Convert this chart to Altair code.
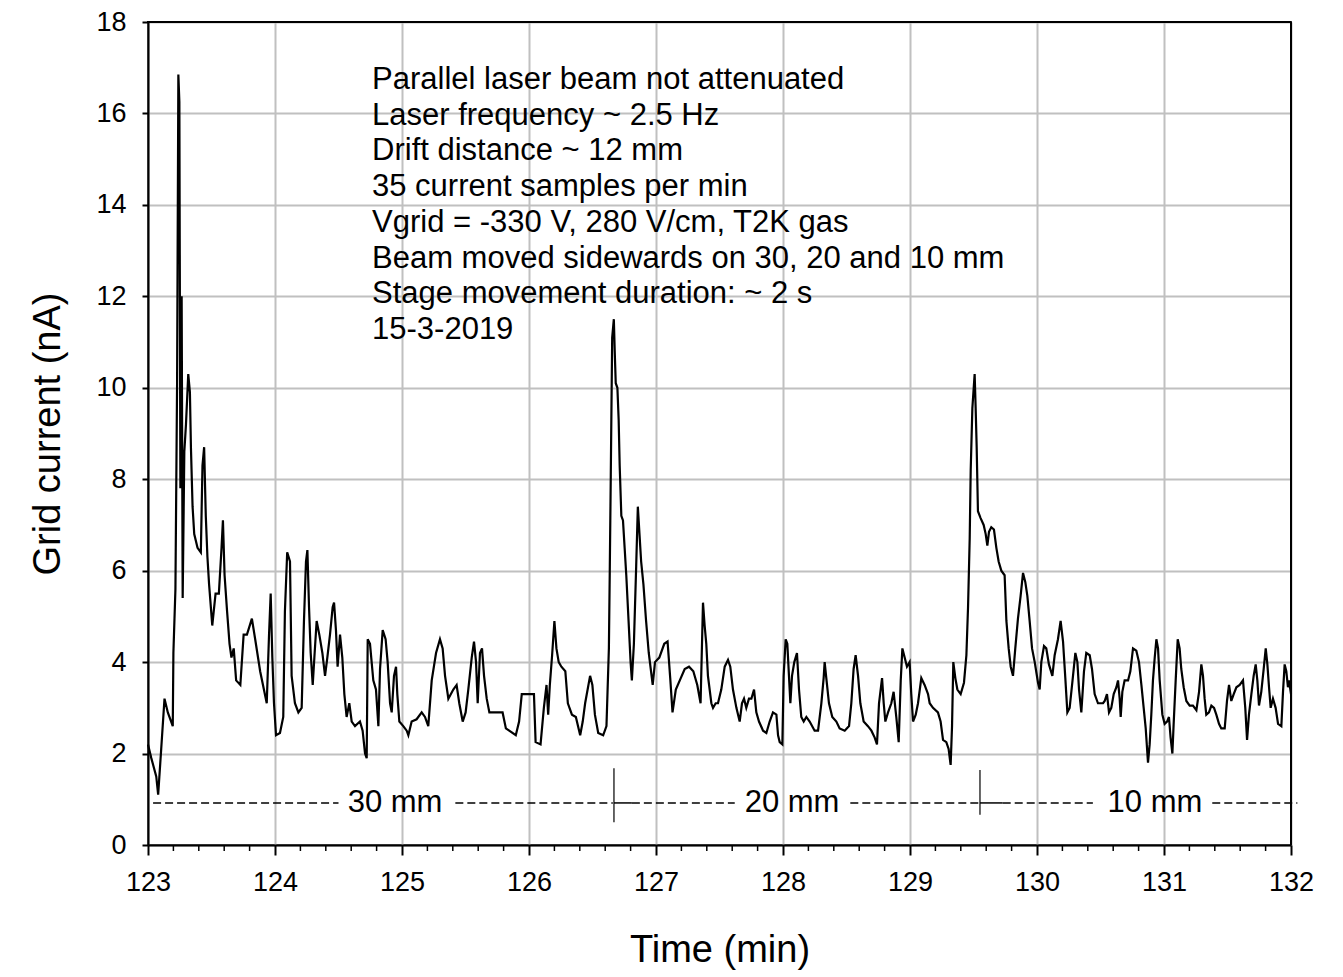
import altair as alt
import pandas as pd

# ---- data ----
time_min = [
    123.000, 123.026, 123.065, 123.080, 123.104, 123.130, 123.156, 123.195, 123.200, 123.216,
    123.229, 123.239, 123.247, 123.255, 123.265, 123.273, 123.286, 123.299, 123.317, 123.330,
    123.338, 123.351, 123.364, 123.390, 123.416, 123.429, 123.442, 123.455, 123.468, 123.481,
    123.506, 123.532, 123.558, 123.579, 123.590, 123.603, 123.623, 123.642, 123.657, 123.675,
    123.694, 123.727, 123.753, 123.779, 123.818, 123.844, 123.883, 123.935, 123.953, 123.966,
    123.979, 123.992, 124.008, 124.039, 124.065, 124.078, 124.096,
    124.118, 124.131, 124.157, 124.184, 124.210, 124.228, 124.244, 124.255, 124.268, 124.281,
    124.297, 124.310, 124.328, 124.349, 124.373, 124.394, 124.412, 124.433, 124.454, 124.465,
    124.480, 124.493, 124.512, 124.530, 124.546, 124.564, 124.585, 124.604, 124.630, 124.669,
    124.690, 124.709, 124.722, 124.730, 124.748, 124.774, 124.795, 124.814, 124.827, 124.848,
    124.871, 124.887, 124.906, 124.919, 124.937, 124.953, 124.963, 124.979, 125.010, 125.037,
    125.050, 125.076, 125.115, 125.155, 125.181, 125.207, 125.234, 125.268, 125.299, 125.320,
    125.339, 125.365, 125.404, 125.430, 125.451, 125.478, 125.501, 125.522, 125.549, 125.567,
    125.583, 125.596, 125.614, 125.630, 125.646, 125.667, 125.688,
    125.701, 125.792, 125.818, 125.844, 125.896, 125.922, 125.943, 126.039, 126.052, 126.091,
    126.117, 126.138, 126.151, 126.164, 126.182, 126.200, 126.216, 126.234, 126.255, 126.286,
    126.306, 126.338, 126.369, 126.403, 126.423, 126.442, 126.481, 126.499, 126.519, 126.545,
    126.584, 126.610, 126.629, 126.636, 126.644, 126.655, 126.668, 126.675, 126.683, 126.696,
    126.706, 126.714, 126.727, 126.740, 126.753, 126.766, 126.784, 126.800, 126.810, 126.826,
    126.844, 126.857, 126.870, 126.883, 126.901, 126.922, 126.943, 126.974, 126.992, 127.026,
    127.065, 127.091, 127.112, 127.130, 127.156, 127.195, 127.226, 127.260, 127.294, 127.325,
    127.351,
    127.370, 127.383, 127.396, 127.409, 127.436, 127.449, 127.470, 127.488, 127.514, 127.541,
    127.567, 127.585, 127.606, 127.633, 127.659, 127.677, 127.693, 127.711, 127.732, 127.751,
    127.772, 127.790, 127.811, 127.843, 127.869, 127.895, 127.921, 127.948, 127.961, 127.974,
    127.995, 128.005, 128.021, 128.034, 128.047, 128.058, 128.071, 128.089, 128.110, 128.126,
    128.144, 128.163, 128.184, 128.210, 128.249, 128.276, 128.302, 128.320, 128.328, 128.341,
    128.362, 128.388, 128.420, 128.446, 128.486, 128.520, 128.538, 128.556, 128.572, 128.591,
    128.609, 128.635, 128.669, 128.696, 128.722, 128.740, 128.756, 128.780, 128.793, 128.806,
    128.827, 128.853, 128.871, 128.892, 128.911, 128.927, 128.940, 128.958, 128.976, 128.997,
    129.010, 129.024, 129.045, 129.063, 129.089, 129.115, 129.142,
    129.155, 129.181, 129.220, 129.241, 129.260, 129.286, 129.304, 129.320, 129.331, 129.341,
    129.357, 129.373, 129.399, 129.425, 129.444, 129.457, 129.470, 129.478, 129.491, 129.509,
    129.517, 129.525, 129.535, 129.556, 129.580, 129.596, 129.609, 129.622, 129.640, 129.661,
    129.680, 129.698, 129.719, 129.745, 129.759, 129.777, 129.793, 129.811, 129.829, 129.850,
    129.871, 129.890, 129.908, 129.924, 129.942, 129.961, 129.982, 130.008, 130.021, 130.034,
    130.055, 130.073, 130.094, 130.121, 130.139, 130.165, 130.186, 130.205, 130.223, 130.239,
    130.257, 130.278, 130.302, 130.318, 130.331, 130.349, 130.370, 130.388, 130.415, 130.433,
    130.454, 130.480, 130.520,
    130.533, 130.551, 130.567, 130.585, 130.604, 130.625, 130.638, 130.651, 130.659, 130.672,
    130.690, 130.717, 130.735, 130.756, 130.782, 130.803, 130.822, 130.840, 130.856, 130.874,
    130.887, 130.900, 130.913, 130.927, 130.940, 130.953, 130.966, 130.987, 131.005, 131.024,
    131.039, 131.052, 131.066, 131.076, 131.092, 131.108, 131.123, 131.136, 131.155, 131.176,
    131.202, 131.228, 131.255, 131.276, 131.294, 131.307, 131.320, 131.333, 131.354, 131.373,
    131.394, 131.412, 131.433, 131.451, 131.478, 131.496, 131.512, 131.530, 131.549, 131.570,
    131.596, 131.622, 131.640, 131.654, 131.669, 131.688, 131.706, 131.722, 131.735, 131.748,
    131.766, 131.785, 131.801, 131.814, 131.827, 131.840, 131.858, 131.879, 131.898, 131.924,
    131.937, 131.950, 131.963, 131.976, 131.984, 132.000,
]

current_nA = [
    2.2, 1.9, 1.5, 1.1, 2.1, 3.2, 2.9, 2.6, 4.2, 5.6,
    10.1, 16.85, 16.25, 7.8, 12.0, 5.4, 8.6, 9.2, 10.3, 9.9,
    8.7, 7.4, 6.8, 6.5, 6.4, 8.3, 8.7, 7.2, 6.3, 5.7,
    4.8, 5.5, 5.5, 6.5, 7.1, 5.9, 5.1, 4.4, 4.1, 4.3,
    3.6, 3.5, 4.6, 4.6, 4.95, 4.5, 3.8, 3.1, 4.6, 5.5,
    4.1, 3.1, 2.4, 2.45, 2.8, 5.1, 6.4,
    6.2, 3.7, 3.1, 2.9, 3.0, 4.9, 6.2, 6.45, 5.2, 4.2,
    3.5, 4.1, 4.9, 4.6, 4.2, 3.7, 4.1, 4.6, 5.2, 5.3,
    4.7, 3.9, 4.6, 4.1, 3.3, 2.8, 3.1, 2.7, 2.6, 2.7,
    2.5, 2.0, 1.9, 4.5, 4.4, 3.6, 3.4, 2.6, 3.85, 4.7,
    4.5, 4.0, 3.1, 2.9, 3.7, 3.9, 3.3, 2.7, 2.6, 2.5,
    2.4, 2.7, 2.75, 2.9, 2.8, 2.6, 3.6, 4.2, 4.5, 4.3,
    3.7, 3.2, 3.4, 3.5, 3.1, 2.7, 2.9, 3.4, 4.1, 4.45,
    4.0, 3.1, 4.2, 4.3, 3.7, 3.2, 2.9,
    2.9, 2.9, 2.55, 2.5, 2.4, 2.7, 3.3, 3.3, 2.25, 2.2,
    3.0, 3.5, 2.85, 3.5, 4.15, 4.9, 4.3, 4.0, 3.9, 3.8,
    3.1, 2.85, 2.8, 2.4, 2.7, 3.1, 3.7, 3.5, 2.85, 2.45,
    2.4, 2.6, 4.3, 6.0, 8.1, 11.1, 11.5, 10.8, 10.1, 10.0,
    9.3, 8.3, 7.2, 7.1, 6.5, 5.9, 4.9, 4.0, 3.6, 4.4,
    6.1, 7.4, 6.8, 6.2, 5.7, 4.9, 4.2, 3.5, 4.0, 4.1,
    4.4, 4.45, 3.65, 2.9, 3.4, 3.65, 3.85, 3.9, 3.8, 3.5,
    3.1,
    5.3, 4.8, 4.4, 3.7, 3.1, 3.0, 3.1, 3.1, 3.4, 3.9,
    4.05, 3.9, 3.4, 3.0, 2.7, 3.1, 3.2, 3.0, 3.2, 3.2,
    3.4, 2.9, 2.7, 2.5, 2.45, 2.7, 2.9, 2.85, 2.4, 2.25,
    2.2, 3.7, 4.5, 4.4, 3.7, 3.1, 3.7, 4.0, 4.2, 3.4,
    2.8, 2.7, 2.8, 2.7, 2.5, 2.5, 3.1, 3.65, 4.0, 3.65,
    3.1, 2.8, 2.7, 2.55, 2.5, 2.6, 3.1, 3.85, 4.15, 3.7,
    3.1, 2.7, 2.6, 2.5, 2.35, 2.2, 3.1, 3.65, 3.1, 2.7,
    2.9, 3.1, 3.35, 2.8, 2.25, 3.6, 4.3, 4.1, 3.9, 4.0,
    3.3, 2.7, 2.85, 3.1, 3.65, 3.5, 3.3,
    3.1, 3.0, 2.9, 2.7, 2.3, 2.25, 2.1, 1.75, 2.6, 4.0,
    3.65, 3.4, 3.3, 3.55, 4.15, 5.2, 6.7, 8.2, 9.55, 10.3,
    9.55, 8.7, 7.3, 7.15, 7.0, 6.8, 6.55, 6.85, 6.95, 6.9,
    6.5, 6.2, 6.0, 5.9, 4.9, 4.3, 3.9, 3.7, 4.3, 4.95,
    5.45, 5.95, 5.75, 5.45, 4.9, 4.3, 4.0, 3.55, 3.4, 4.0,
    4.35, 4.3, 3.95, 3.7, 4.15, 4.5, 4.9, 4.45, 3.65, 2.9,
    3.0, 3.55, 4.2, 4.0, 3.4, 2.9, 3.8, 4.2, 4.15, 3.85,
    3.3, 3.1, 3.1,
    3.15, 3.3, 2.9, 3.0, 3.3, 3.45, 3.6, 3.2, 2.8, 3.35,
    3.6, 3.6, 3.8, 4.3, 4.25, 4.0, 3.5, 3.0, 2.55, 1.8,
    2.2, 2.85, 3.6, 4.1, 4.5, 4.3, 3.6, 2.85, 2.65, 2.7,
    2.8, 2.35, 2.0, 2.65, 3.6, 4.5, 4.3, 3.85, 3.45, 3.15,
    3.05, 3.05, 2.95, 3.35, 3.95, 3.7, 3.2, 2.85, 2.9, 3.05,
    3.0, 2.85, 2.65, 2.55, 2.55, 3.15, 3.5, 3.15, 3.3, 3.45,
    3.5, 3.6, 3.0, 2.3, 2.85, 3.3, 3.7, 3.95, 3.6, 3.05,
    3.35, 3.85, 4.3, 3.95, 3.45, 3.0, 3.2, 3.0, 2.65, 2.6,
    3.35, 3.95, 3.8, 3.45, 3.6, 3.3,
]

x_ticks = [123, 124, 125, 126, 127, 128, 129, 130, 131, 132]
y_ticks = [0, 2, 4, 6, 8, 10, 12, 14, 16, 18]
minor_x_ticks = [123.2, 123.4, 123.6, 123.8, 124.2, 124.4, 124.6, 124.8,
                 125.2, 125.4, 125.6, 125.8, 126.2, 126.4, 126.6, 126.8,
                 127.2, 127.4, 127.6, 127.8, 128.2, 128.4, 128.6, 128.8,
                 129.2, 129.4, 129.6, 129.8, 130.2, 130.4, 130.6, 130.8,
                 131.2, 131.4, 131.6, 131.8]

info_lines = [
    "Parallel laser beam not attenuated",
    "Laser frequency ~ 2.5 Hz",
    "Drift distance ~ 12 mm",
    "35 current samples per min",
    "Vgrid = -330 V, 280 V/cm, T2K gas",
    "Beam moved sidewards on 30, 20 and 10 mm",
    "Stage movement duration: ~ 2 s",
    "15-3-2019",
]
info_x = 124.764
info_y_first = 16.73

# beam position annotation (dashed line with labels)
seg_labels = ["30 mm", "20 mm", "10 mm"]
seg_label_x = [124.945, 128.071, 130.929]
seg_level = 0.92
dash_start = [123.04, 125.42, 126.81, 128.53, 129.73, 131.38]
dash_end = [124.50, 126.66, 127.62, 129.54, 130.44, 132.05]
solid_start = [126.669, 129.551]
solid_end = [126.81, 129.73]
move_x = [126.669, 129.551]
move_y1 = [0.50, 0.66]
move_y2 = [1.68, 1.64]

W, H = 1143, 823
FONT = "Liberation Sans"

df = pd.DataFrame({"time": time_min, "current": current_nA})

xscale = alt.Scale(domain=[123, 132], nice=False, zero=False)
yscale = alt.Scale(domain=[0, 18], nice=False)
common_axis = dict(labelFont=FONT, titleFont=FONT, labelColor="black",
                   titleColor="black", titleFontWeight="normal",
                   domainColor="black", domainWidth=2, tickColor="black",
                   tickWidth=2, gridColor="#c0c0c0", gridWidth=2,
                   labelFlush=False)
xaxis = alt.Axis(values=x_ticks, title="Time (min)", format="d",
                 tickSize=10, labelPadding=14, titlePadding=36,
                 labelFontSize=27, titleFontSize=38, **common_axis)
yaxis = alt.Axis(values=y_ticks, title="Grid current (nA)", format="d",
                 tickSize=6, labelPadding=16, titlePadding=28,
                 labelFontSize=27, titleFontSize=38, **common_axis)


def X(field):
    return alt.X(field, scale=xscale, axis=xaxis)


def Y(field):
    return alt.Y(field, scale=yscale, axis=yaxis)


line = alt.Chart(df).mark_line(color="black", strokeWidth=2.2).encode(
    x=X("time:Q"), y=Y("current:Q"))

minor = alt.Chart(pd.DataFrame({"t": minor_x_ticks})).mark_rule(
    color="black", strokeWidth=1.5).encode(
    x=X("t:Q"), y=alt.value(H), y2=alt.value(H + 6))

# black frame on top and right (drawn above the grid)
frame_top = alt.Chart(pd.DataFrame({"k": [0]})).mark_rule(
    color="black", strokeWidth=2).encode(
    x=alt.value(0), x2=alt.value(W), y=alt.value(0))
frame_right = alt.Chart(pd.DataFrame({"k": [0]})).mark_rule(
    color="black", strokeWidth=2).encode(
    x=alt.value(W), y=alt.value(0), y2=alt.value(H))

info = alt.Chart(pd.DataFrame({"x": [info_x], "y": [info_y_first],
                               "txt": ["\n".join(info_lines)]})).mark_text(
    align="left", baseline="middle", lineBreak="\n", lineHeight=35.7,
    font=FONT, fontSize=31, color="black").encode(
    x=X("x:Q"), y=Y("y:Q"), text="txt:N")

dashes = alt.Chart(pd.DataFrame({"a": dash_start, "b": dash_end,
                                 "y": [seg_level] * len(dash_start)})).mark_rule(
    color="black", strokeWidth=1.5, strokeDash=[8, 4]).encode(
    x=X("a:Q"), x2="b:Q", y=Y("y:Q"))

solids = alt.Chart(pd.DataFrame({"a": solid_start, "b": solid_end,
                                 "y": [seg_level] * len(solid_start)})).mark_rule(
    color="black", strokeWidth=1.5).encode(
    x=X("a:Q"), x2="b:Q", y=Y("y:Q"))

moves = alt.Chart(pd.DataFrame({"x": move_x, "y1": move_y1, "y2": move_y2})).mark_rule(
    color="black", strokeWidth=1.2).encode(
    x=X("x:Q"), y=Y("y1:Q"), y2="y2:Q")

seglab = alt.Chart(pd.DataFrame({"x": seg_label_x, "y": [seg_level] * 3,
                                 "txt": seg_labels})).mark_text(
    align="center", baseline="middle", font=FONT, fontSize=31, color="black").encode(
    x=X("x:Q"), y=Y("y:Q"), text="txt:N")

chart = alt.layer(line, minor, frame_top, frame_right, dashes, solids, moves,
                  seglab, info).properties(
    width=W, height=H,
    padding={"left": 148, "top": 22, "right": 52, "bottom": 132},
    autosize=alt.AutoSizeParams(type="none"),
    background="white",
).configure_view(
    stroke="black", strokeWidth=2
)

chart.save("out.html", embed_options={"renderer": "svg", "actions": False})
